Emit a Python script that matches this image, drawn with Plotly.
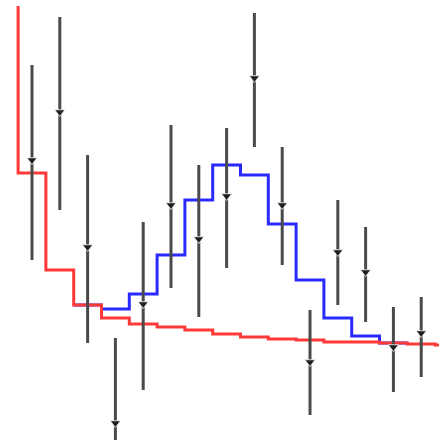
import plotly.graph_objects as go

# Histogram bins (bin index; each bin spans k-0.5 .. k+0.5)
bkg_bins = list(range(0, 17))
bkg_values = [60.0, 26.7, 17.0, 13.5, 12.2, 11.6, 11.3, 11.0, 10.6, 10.3,
              10.1, 10.0, 9.8, 9.8, 9.7, 9.6, 9.5]

tot_bins = list(range(3, 15))
tot_values = [13.5, 13.1, 14.6, 18.5, 24.0, 27.5, 26.5, 21.6, 16.0, 12.2, 10.4, 9.7]

# Data points with asymmetric errors
data_bins = list(range(1, 16))
data_values = [28.0, 32.8, 19.3, 1.7, 13.6, 23.5, 20.1, 24.4, 36.2, 23.5, 7.8, 18.8, 16.8, 9.3, 10.7]
data_upper = [37.5, 42.3, 28.5, 10.2, 21.8, 31.5, 27.5, 31.2, 42.7, 29.3, 13.0, 24.0, 21.3, 13.3, 14.3]
data_lower = [18.0, 23.0, 9.7, -6.8, 5.0, 15.2, 12.3, 17.2, 29.3, 17.5, 2.5, 13.5, 11.8, 4.8, 6.3]


def step_xy(bins, values):
    xs = [b - 0.5 for b in bins] + [bins[-1] + 0.5]
    ys = list(values) + [values[-1]]
    return xs, ys


fig = go.Figure()

bx, by = step_xy(tot_bins, tot_values)
fig.add_trace(go.Scatter(x=bx, y=by, mode="lines", line=dict(color="#2a2aff", width=3, shape="hv"),
                         hoverinfo="skip", showlegend=False))

rx, ry = step_xy(bkg_bins, bkg_values)
fig.add_trace(go.Scatter(x=rx, y=ry, mode="lines", line=dict(color="#ff3838", width=3, shape="hv"),
                         hoverinfo="skip", showlegend=False))

fig.add_trace(go.Scatter(
    x=data_bins, y=data_values, mode="markers",
    marker=dict(symbol="triangle-down", size=9, color="#202020",
                line=dict(color="white", width=0.8)),
    error_y=dict(type="data", symmetric=False,
                 array=[u - v for u, v in zip(data_upper, data_values)],
                 arrayminus=[v - l for v, l in zip(data_values, data_lower)],
                 width=0, thickness=3, color="#4a4a4a"),
    showlegend=False))

fig.update_layout(
    width=439, height=440,
    margin=dict(l=0, r=0, t=6, b=0),
    paper_bgcolor="white", plot_bgcolor="white",
    xaxis=dict(range=[-0.151, 15.64], visible=False, fixedrange=True),
    yaxis=dict(range=[0, 43.4], visible=False, fixedrange=True),
)

fig.write_html("out.html")
